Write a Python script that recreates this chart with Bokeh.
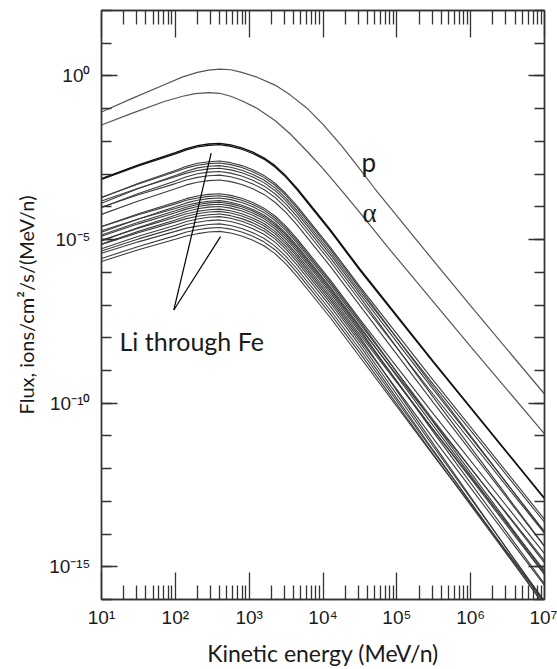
from bokeh.plotting import figure
from bokeh.models import LogAxis, FixedTicker, Label, CustomJSTickFormatter, Range1d
from bokeh.embed import file_html
from bokeh.resources import INLINE

# ---------------- data (log10 values) ----------------
LOG_E_PROTON = [1.0, 1.4, 1.85, 2.1, 2.3, 2.45, 2.6, 2.75, 2.9, 3.1, 3.35, 3.55, 3.8, 4.0, 4.25, 4.5, 4.7, 5.37, 6.0, 7.0]
LOG_FLUX_PROTON = [-1.10, -0.70, -0.27, -0.03, 0.11, 0.18, 0.21, 0.19, 0.11, -0.03, -0.28, -0.57, -1.02, -1.48,
                   -2.13, -2.85, -3.44, -5.30, -7.03, -9.72]

LOG_E_ALPHA = [1.0, 1.4, 1.85, 2.1, 2.27, 2.45, 2.6, 2.75, 2.9, 3.1, 3.35, 3.55, 3.8, 4.0, 4.25, 4.5, 4.88, 6.0, 7.0]
LOG_FLUX_ALPHA = [-1.50, -1.15, -0.78, -0.62, -0.54, -0.51, -0.53, -0.62, -0.76, -0.98, -1.36, -1.76, -2.34, -2.83,
                  -3.50, -4.18, -5.24, -8.27, -10.94]

LOG_E_HEAVY = [1.0, 1.5, 2.0, 2.15, 2.3, 2.45, 2.6, 2.75, 2.9, 3.05, 3.2, 3.35, 3.5, 3.65, 3.8, 4.1, 4.5, 5.5, 7.0]
# Li through Fe: one row per ion species
LOG_FLUX_HEAVY = [
    [-3.14, -2.72, -2.34, -2.22, -2.13, -2.08, -2.06, -2.11, -2.20, -2.33, -2.50, -2.74, -3.06, -3.44, -3.86, -4.70, -5.90, -8.74, -12.90],
    [-3.16, -2.75, -2.38, -2.26, -2.17, -2.12, -2.10, -2.15, -2.24, -2.37, -2.54, -2.78, -3.10, -3.48, -3.90, -4.74, -5.94, -8.77, -12.92],
    [-3.72, -3.28, -2.89, -2.76, -2.67, -2.62, -2.60, -2.65, -2.74, -2.87, -3.04, -3.28, -3.60, -3.98, -4.40, -5.24, -6.44, -9.32, -13.55],
    [-3.71, -3.30, -2.93, -2.81, -2.73, -2.68, -2.66, -2.71, -2.80, -2.93, -3.10, -3.34, -3.66, -4.04, -4.46, -5.30, -6.50, -9.52, -13.96],
    [-3.89, -3.44, -3.04, -2.91, -2.81, -2.76, -2.74, -2.79, -2.88, -3.01, -3.18, -3.42, -3.74, -4.12, -4.54, -5.38, -6.58, -9.44, -13.64],
    [-3.82, -3.43, -3.08, -2.97, -2.89, -2.84, -2.82, -2.87, -2.96, -3.09, -3.26, -3.50, -3.82, -4.20, -4.62, -5.46, -6.66, -9.60, -13.92],
    [-4.02, -3.59, -3.21, -3.08, -2.99, -2.94, -2.92, -2.97, -3.06, -3.19, -3.36, -3.60, -3.92, -4.30, -4.72, -5.56, -6.76, -9.84, -14.37],
    [-4.01, -3.63, -3.29, -3.18, -3.10, -3.05, -3.03, -3.08, -3.17, -3.30, -3.47, -3.71, -4.03, -4.41, -4.83, -5.67, -6.87, -9.75, -13.98],
    [-4.23, -3.82, -3.45, -3.33, -3.25, -3.20, -3.18, -3.23, -3.32, -3.45, -3.62, -3.86, -4.18, -4.56, -4.98, -5.82, -7.02, -10.00, -14.38],
    [-4.60, -4.21, -3.86, -3.75, -3.67, -3.62, -3.60, -3.65, -3.74, -3.87, -4.04, -4.28, -4.60, -4.98, -5.40, -6.24, -7.44, -10.34, -14.60],
    [-4.61, -4.24, -3.91, -3.80, -3.73, -3.68, -3.66, -3.71, -3.80, -3.93, -4.10, -4.34, -4.66, -5.04, -5.46, -6.30, -7.50, -10.60, -15.16],
    [-4.78, -4.37, -4.00, -3.88, -3.80, -3.75, -3.73, -3.78, -3.87, -4.00, -4.17, -4.41, -4.73, -5.11, -5.53, -6.37, -7.57, -10.53, -14.88],
    [-4.73, -4.37, -4.05, -3.95, -3.88, -3.83, -3.81, -3.86, -3.95, -4.08, -4.25, -4.49, -4.81, -5.19, -5.61, -6.45, -7.65, -10.71, -15.21],
    [-4.86, -4.47, -4.12, -4.01, -3.93, -3.88, -3.86, -3.91, -4.00, -4.13, -4.30, -4.54, -4.86, -5.24, -5.66, -6.50, -7.70, -10.58, -14.81],
    [-4.90, -4.52, -4.18, -4.07, -3.99, -3.94, -3.92, -3.97, -4.06, -4.19, -4.36, -4.60, -4.92, -5.30, -5.72, -6.56, -7.76, -10.90, -15.52],
    [-5.04, -4.63, -4.26, -4.14, -4.06, -4.01, -3.99, -4.04, -4.13, -4.26, -4.43, -4.67, -4.99, -5.37, -5.79, -6.63, -7.83, -10.83, -15.24],
    [-5.02, -4.65, -4.32, -4.21, -4.14, -4.09, -4.07, -4.12, -4.21, -4.34, -4.51, -4.75, -5.07, -5.45, -5.87, -6.71, -7.91, -10.83, -15.12],
    [-5.14, -4.75, -4.40, -4.29, -4.21, -4.16, -4.14, -4.19, -4.28, -4.41, -4.58, -4.82, -5.14, -5.52, -5.94, -6.78, -7.98, -11.26, -16.09],
    [-5.15, -4.79, -4.46, -4.36, -4.29, -4.24, -4.22, -4.27, -4.36, -4.49, -4.66, -4.90, -5.22, -5.60, -6.02, -6.86, -8.06, -11.10, -15.57],
    [-5.28, -4.90, -4.56, -4.45, -4.37, -4.32, -4.30, -4.35, -4.44, -4.57, -4.74, -4.98, -5.30, -5.68, -6.10, -6.94, -8.14, -11.34, -16.05],
    [-5.35, -4.98, -4.65, -4.54, -4.47, -4.42, -4.40, -4.45, -4.54, -4.67, -4.84, -5.08, -5.40, -5.78, -6.20, -7.04, -8.24, -11.46, -16.20],
    [-5.42, -5.07, -4.75, -4.65, -4.59, -4.54, -4.52, -4.57, -4.66, -4.79, -4.96, -5.20, -5.52, -5.90, -6.32, -7.16, -8.36, -11.50, -16.12],
    [-5.58, -5.21, -4.88, -4.77, -4.70, -4.65, -4.63, -4.68, -4.77, -4.90, -5.07, -5.31, -5.63, -6.01, -6.43, -7.27, -8.47, -11.59, -16.18],
    [-5.67, -5.31, -4.99, -4.89, -4.82, -4.77, -4.75, -4.80, -4.89, -5.02, -5.19, -5.43, -5.75, -6.13, -6.55, -7.39, -8.59, -11.61, -16.05],
]

X_TICK_EXPONENTS = [1, 2, 3, 4, 5, 6, 7]
X_TICK_LABELS = ["10\u00b9", "10\u00b2", "10\u00b3", "10\u2074", "10\u2075", "10\u2076", "10\u2077"]
Y_TICK_EXPONENTS = [0, -5, -10, -15]
Y_TICK_LABELS = ["10\u2070", "10\u207b\u2075", "10\u207b\u00b9\u2070", "10\u207b\u00b9\u2075"]
X_TITLE = "Kinetic energy (MeV/n)"
Y_TITLE = "Flux, ions/cm\u00b2/s/(MeV/n)"
ANNOTATION = "Li through Fe"

# ---------------- layout ----------------
W, H = 557, 669
LEFT, RIGHT, TOP, BOTTOM = 101, 13, 10, 67
X_LO, X_HI = 1, 7          # log10 range
Y_LO, Y_HI = -16, 2
PXX = (W - LEFT - RIGHT) / (X_HI - X_LO)
PXY = (H - TOP - BOTTOM) / (Y_HI - Y_LO)


def xd(px):
    """screen x (px from left) -> data x"""
    return 10 ** (X_LO + (px - LEFT) / PXX)


def yd(py):
    """screen y (px from top) -> data y"""
    return 10 ** (Y_HI - (py - TOP) / PXY)


p = figure(width=W, height=H, x_axis_type="log", y_axis_type="log",
           x_range=Range1d(10 ** X_LO, 10 ** X_HI), y_range=Range1d(10 ** Y_LO, 10 ** Y_HI),
           output_backend="svg", toolbar_location=None,
           min_border_left=LEFT, min_border_right=RIGHT,
           min_border_top=TOP, min_border_bottom=BOTTOM)
p.grid.visible = False
p.outline_line_color = "#333333"
p.outline_line_width = 1.4
p.background_fill_color = "white"
p.border_fill_color = "white"

AX_COLOR = "#333333"
NUM_FONT = "Liberation Sans"
TXT_FONT = "Lato"
TXT_COLOR = "#1a1a1a"
EMPTY = CustomJSTickFormatter(code="return ''")
FMT_CODE = "const e = Math.round(Math.log10(tick)); const i = exps.indexOf(e); return i >= 0 ? labels[i] : '';"


def base_style(ax):
    ax.axis_line_color = AX_COLOR
    ax.axis_line_width = 1.4
    ax.major_tick_line_color = AX_COLOR
    ax.minor_tick_line_color = AX_COLOR
    ax.major_tick_line_width = 1.3
    ax.minor_tick_line_width = 1.3
    ax.major_tick_out = 0
    ax.minor_tick_out = 0
    ax.major_label_text_font = NUM_FONT
    ax.major_label_text_font_size = "19px"
    ax.major_label_text_color = TXT_COLOR
    ax.axis_label_text_font = TXT_FONT
    ax.axis_label_text_font_style = "normal"
    ax.axis_label_text_color = TXT_COLOR


def style_x(ax, labelled):
    base_style(ax)
    ax.ticker = FixedTicker(ticks=[10.0 ** k for k in X_TICK_EXPONENTS],
                            minor_ticks=[m * 10.0 ** k for k in range(1, 7) for m in range(2, 10)])
    ax.major_tick_in = 27
    ax.minor_tick_in = 14
    if labelled:
        ax.formatter = CustomJSTickFormatter(args=dict(exps=X_TICK_EXPONENTS, labels=X_TICK_LABELS), code=FMT_CODE)
        ax.major_label_standoff = 7
        ax.axis_label = X_TITLE
        ax.axis_label_text_font_size = "23px"
        ax.axis_label_standoff = 8
    else:
        ax.formatter = EMPTY
        ax.major_label_text_font_size = "0px"


def style_y(ax, labelled):
    base_style(ax)
    ax.ticker = FixedTicker(ticks=[10.0 ** k for k in Y_TICK_EXPONENTS],
                            minor_ticks=[10.0 ** k for k in range(Y_LO, Y_HI + 1)])
    ax.major_tick_in = 16
    ax.minor_tick_in = 10
    if labelled:
        ax.formatter = CustomJSTickFormatter(args=dict(exps=Y_TICK_EXPONENTS, labels=Y_TICK_LABELS), code=FMT_CODE)
        ax.major_label_standoff = 11
        ax.axis_label = Y_TITLE
        ax.axis_label_text_font_size = "20px"
        ax.axis_label_standoff = 8
    else:
        ax.formatter = EMPTY
        ax.major_label_text_font_size = "0px"


style_x(p.xaxis[0], True)
style_y(p.yaxis[0], True)
top_axis = LogAxis()
style_x(top_axis, False)
p.add_layout(top_axis, "above")
right_axis = LogAxis()
style_y(right_axis, False)
p.add_layout(right_axis, "right")

# ---------------- curves ----------------
for row in LOG_FLUX_HEAVY[2:]:
    p.line([10 ** e for e in LOG_E_HEAVY], [10 ** f for f in row], line_color="#3c3c3c", line_width=1.1)
for row in LOG_FLUX_HEAVY[:2]:
    p.line([10 ** e for e in LOG_E_HEAVY], [10 ** f for f in row], line_color="#111111", line_width=1.3)
p.line([10 ** e for e in LOG_E_ALPHA], [10 ** f for f in LOG_FLUX_ALPHA], line_color="#555555", line_width=1.2)
p.line([10 ** e for e in LOG_E_PROTON], [10 ** f for f in LOG_FLUX_PROTON], line_color="#555555", line_width=1.2)

# pointer lines for the "Li through Fe" annotation
p.segment(x0=[xd(173.3), xd(173.3)], y0=[yd(311), yd(311)],
          x1=[xd(210.7), xd(220.0)], y1=[yd(153.3), yd(237.3)],
          line_color="black", line_width=1.2)

# ---------------- annotations inside the frame ----------------
p.add_layout(Label(x=xd(119), y=yd(342), text=ANNOTATION, text_align="left",
                   text_baseline="alphabetic", text_font=TXT_FONT,
                   text_font_size="25px", text_color=TXT_COLOR))
p.add_layout(Label(x=xd(361), y=yd(162), text="p", text_align="left",
                   text_baseline="alphabetic", text_font=TXT_FONT,
                   text_font_size="26px", text_color=TXT_COLOR))
p.add_layout(Label(x=xd(362), y=yd(214), text="\u03b1", text_align="left",
                   text_baseline="alphabetic", text_font="Liberation Serif",
                   text_font_size="27px", text_color=TXT_COLOR))

open("out.html", "w").write(file_html(p, INLINE))
